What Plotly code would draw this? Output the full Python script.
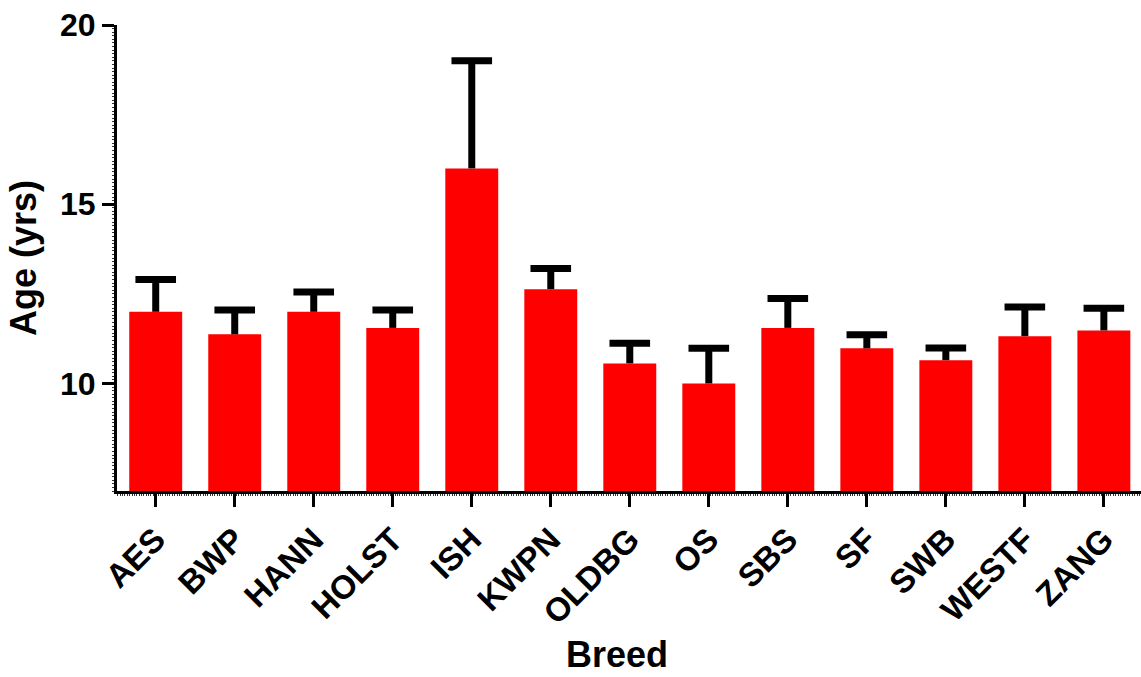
import plotly.graph_objects as go

breeds = ["AES", "BWP", "HANN", "HOLST", "ISH", "KWPN", "OLDBG", "OS", "SBS", "SF", "SWB", "WESTF", "ZANG"]
mean_age = [12.0, 11.37, 12.0, 11.55, 16.0, 12.63, 10.56, 10.0, 11.55, 10.98, 10.65, 11.32, 11.48]
sem_age = [0.9, 0.68, 0.55, 0.5, 3.0, 0.58, 0.56, 0.98, 0.82, 0.38, 0.34, 0.81, 0.62]
y_ticks = [10, 15, 20]

xpos = list(range(len(breeds)))
tops = [m + s for m, s in zip(mean_age, sem_age)]
FONT = "Liberation Sans, Arial, sans-serif"

fig = go.Figure()
fig.add_trace(go.Bar(
    x=xpos, y=mean_age, width=0.67,
    marker=dict(color="#FF0000", line=dict(width=0)),
    error_y=dict(type="data", symmetric=False, array=sem_age,
                 arrayminus=[0] * len(sem_age), width=0, thickness=7, color="black"),
))
fig.add_trace(go.Scatter(
    x=xpos, y=tops, mode="markers",
    marker=dict(symbol="line-ew", size=29, line=dict(width=7, color="black")),
    hoverinfo="skip",
))

fig.update_layout(
    width=1141, height=677,
    margin=dict(l=117, r=0, t=25, b=186),
    paper_bgcolor="white", plot_bgcolor="white",
    showlegend=False,
    font=dict(family=FONT, color="black"),
)

fig.update_xaxes(
    range=[-0.49, 12.47], tickmode="array", tickvals=xpos,
    ticktext=["<b>%s</b>" % b for b in breeds], tickangle=-45,
    tickfont=dict(size=33, family=FONT, color="black"),
    ticks="outside", ticklen=13, tickwidth=3, tickcolor="black",
    showline=True, linewidth=3, linecolor="black", showgrid=False, zeroline=False,
    minor=dict(dtick=0.03, ticks="outside", ticklen=2, tickwidth=1, tickcolor="#333"),
    automargin=False, ticklabeloverflow="allow",
)
fig.update_yaxes(
    range=[7, 20], tickvals=y_ticks, ticktext=["<b>%d</b>" % v for v in y_ticks],
    tickfont=dict(size=32, family=FONT, color="black"),
    ticks="outside", ticklen=12, tickwidth=3, tickcolor="black",
    showline=True, linewidth=3, linecolor="black", showgrid=False, zeroline=False,
    minor=dict(dtick=0.1, ticks="outside", ticklen=2, tickwidth=1, tickcolor="#333"),
    automargin=False, ticklabeloverflow="allow",
)

fig.add_annotation(text="<b>Age (yrs)</b>", x=-0.0918, y=0.5, xref="paper", yref="paper",
                   xanchor="center", yanchor="middle", textangle=-90, showarrow=False,
                   borderpad=0, font=dict(size=36, family=FONT, color="black"))
fig.add_annotation(text="<b>Breed</b>", x=0.488, y=-0.351, xref="paper", yref="paper",
                   yanchor="middle", showarrow=False, borderpad=0,
                   font=dict(size=36, family=FONT, color="black"))

fig.write_html("out.html", config={"displayModeBar": False},
               post_script="document.body.style.margin='0';")
